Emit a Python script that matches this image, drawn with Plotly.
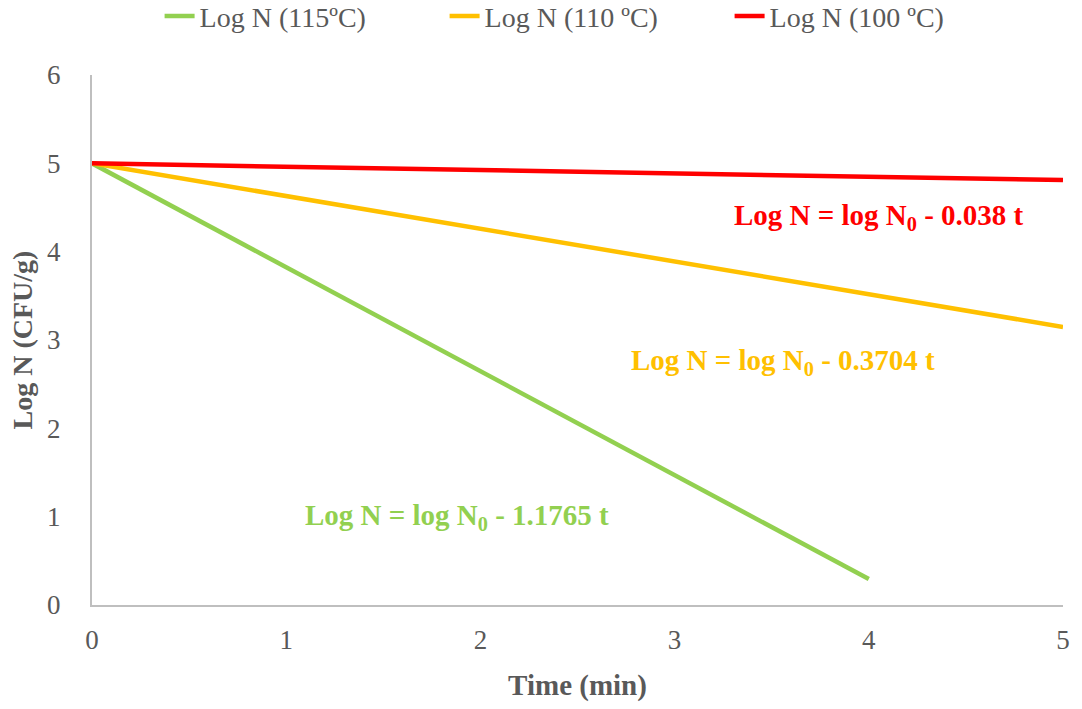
import plotly.graph_objects as go

time_115 = [0, 4]
logn_115 = [5, 0.294]
time_110 = [0, 5]
logn_110 = [5, 3.148]
time_100 = [0, 5]
logn_100 = [5, 4.81]

x_ticks = [0, 1, 2, 3, 4, 5]
y_ticks = [0, 1, 2, 3, 4, 5, 6]

FONT = "Liberation Serif"
fig = go.Figure()
fig.add_trace(go.Scatter(x=time_115, y=logn_115, mode="lines", name="Log N (115ºC)",
                         line=dict(color="#92D050", width=4.5)))
fig.add_trace(go.Scatter(x=time_110, y=logn_110, mode="lines", name="Log N (110 ºC)",
                         line=dict(color="#FFC000", width=4.5)))
fig.add_trace(go.Scatter(x=time_100, y=logn_100, mode="lines", name="Log N (100 ºC)",
                         line=dict(color="#FF0000", width=4.5)))

ann = [
    (4.05, 4.39, "Log N = log N<sub>0</sub> - 0.038 t", "#FF0000"),
    (3.56, 2.75, "Log N = log N<sub>0</sub> - 0.3704 t", "#FFC000"),
    (1.88, 1.0, "Log N = log N<sub>0</sub> - 1.1765 t", "#92D050"),
]
for x, y, t, c in ann:
    fig.add_annotation(x=x, y=y, text="<b>" + t + "</b>", showarrow=False,
                       font=dict(family=FONT, size=29, color=c))

fig.update_layout(
    width=1082, height=709,
    margin=dict(l=92, r=14, t=75, b=104),
    paper_bgcolor="white", plot_bgcolor="white",
    font=dict(family=FONT, color="#595959"),
    legend=dict(orientation="h", x=0.1475, xanchor="left", xref="container",
                y=0.977, yanchor="middle", yref="container",
                font=dict(family=FONT, size=28, color="#595959"),
                entrywidth=240),
    showlegend=True,
)
fig.update_xaxes(range=[0, 5], tickvals=x_ticks, showgrid=False, zeroline=False,
                 showline=True, linecolor="#BFBFBF", linewidth=2,
                 tickfont=dict(family=FONT, size=27, color="#595959"),
                 ticklabelstandoff=10,
                 title=dict(text="<b>Time (min)</b>", font=dict(family=FONT, size=29, color="#595959"), standoff=20))
fig.update_yaxes(range=[0, 6], tickvals=y_ticks, showgrid=False, zeroline=False,
                 showline=True, linecolor="#BFBFBF", linewidth=2,
                 tickfont=dict(family=FONT, size=27, color="#595959"),
                 ticklabelstandoff=24,
                 title=dict(text="<b>Log N (CFU/g)</b>", font=dict(family=FONT, size=28, color="#595959"), standoff=6))
fig.write_html("out.html")
